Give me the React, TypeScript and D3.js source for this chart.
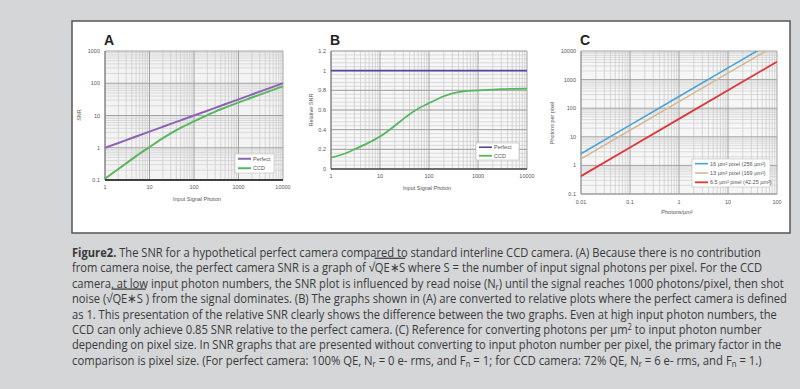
import React, { useLayoutEffect, useRef, useState } from 'react';
import * as d3 from 'd3';

// ---------- data ----------
const signalPhotons = [1, 2, 3, 5, 10, 20, 30, 50, 100, 200, 300, 500, 1000, 2000, 3000, 5000, 10000];
const perfectSNR = [1, 1.41, 1.73, 2.24, 3.16, 4.47, 5.48, 7.07, 10, 14.1, 17.3, 22.4, 31.6, 44.7, 54.8, 70.7, 100];
const ccdSNR = [0.11, 0.22, 0.33, 0.55, 1.05, 1.98, 2.8, 4.15, 6.6, 10.3, 13.2, 17.5, 25.5, 36, 44.5, 57, 81];
const perfectRel = [1, 1, 1, 1, 1, 1, 1, 1, 1, 1, 1, 1, 1, 1, 1, 1, 1];
const ccdRel = [0.115, 0.16, 0.2, 0.25, 0.33, 0.44, 0.51, 0.59, 0.67, 0.74, 0.77, 0.79, 0.80, 0.808, 0.812, 0.815, 0.817];

const photonDensity = [0.01, 0.1, 1, 10, 100];
const pixel16 = [2.56, 25.6, 256, 2560, 25600];
const pixel13 = [1.69, 16.9, 169, 1690, 16900];
const pixel65 = [0.4225, 4.225, 42.25, 422.5, 4225];

const aXTicks = [1, 10, 100, 1000, 10000];
const aXLabels = ['1', '10', '100', '1000', '10000'];
const aYTicks = [0.1, 1, 10, 100, 1000];
const aYLabels = ['0.1', '1', '10', '100', '1000'];
const bYTicks = [0, 0.2, 0.4, 0.6, 0.8, 1, 1.2];
const bYLabels = ['0', '0.2', '0.4', '0.6', '0.8', '1', '1.2'];
const cXTicks = [0.01, 0.1, 1, 10, 100];
const cXLabels = ['0.01', '0.1', '1', '10', '100'];
const cYTicks = [0.1, 1, 10, 100, 1000, 10000];
const cYLabels = ['0.1', '1', '10', '100', '1000', '10000'];

const legendAB = ['Perfect', 'CCD'];
const legendC = ['16 µm² pixel (256 µm²)', '13 µm² pixel (169 µm²)', '6.5 µm² pixel (42.25 µm²)'];

type Seg = { t: string; b?: boolean; sub?: boolean; sup?: boolean; ov?: boolean };
const captionLines: { segs: Seg[]; end: number }[] = [
  { end: 762, segs: [{ t: 'Figure2.', b: true }, { t: ' The SNR for a hypothetical perfect camera compared to standard interline CCD camera. (A) Because there is no contribution' }] },
  { end: 763, segs: [{ t: 'from camera noise, the perfect camera SNR is a graph of √' }, { t: 'QE∗S', ov: true }, { t: ' where S = the number of input signal photons per pixel. For the CCD' }] },
  { end: 785, segs: [{ t: 'camera, at low input photon numbers, the SNR plot is influenced by read noise (N' }, { t: 'r', sub: true }, { t: ') until the signal reaches 1000 photons/pixel, then shot' }] },
  { end: 788, segs: [{ t: 'noise (√' }, { t: 'QE∗S ', ov: true }, { t: ') from the signal dominates. (B) The graphs shown in (A) are converted to relative plots where the perfect camera is defined' }] },
  { end: 778, segs: [{ t: 'as 1. This presentation of the relative SNR clearly shows the difference between the two graphs. Even at high input photon numbers, the' }] },
  { end: 762, segs: [{ t: 'CCD can only achieve 0.85 SNR relative to the perfect camera. (C) Reference for converting photons per µm' }, { t: '2', sup: true }, { t: ' to input photon number' }] },
  { end: 782, segs: [{ t: 'depending on pixel size. In SNR graphs that are presented without converting to input photon number per pixel, the primary factor in the' }] },
  { end: 763, segs: [{ t: 'comparison is pixel size. (For perfect camera: 100% QE, N' }, { t: 'r', sub: true }, { t: ' = 0 e- rms, and F' }, { t: 'n', sub: true }, { t: ' = 1; for CCD camera: 72% QE, N' }, { t: 'r', sub: true }, { t: ' = 6 e- rms, and F' }, { t: 'n', sub: true }, { t: ' = 1.)' }] },
];

// ---------- helpers ----------
const FONT = 'Liberation Sans, Arial, sans-serif';
const logMinor = (lo: number, hi: number) => {
  const out: number[] = [];
  for (let e = Math.round(Math.log10(lo)); e < Math.round(Math.log10(hi)); e++) {
    for (let k = 2; k <= 9; k++) out.push(k * Math.pow(10, e));
  }
  return out;
};

type Scale = (v: number) => number;

function Grid({ x, y, xMajor, xMinor, yMajor, yMinor, x0, x1, y0, y1 }: {
  x: Scale; y: Scale; xMajor: number[]; xMinor: number[]; yMajor: number[]; yMinor: number[];
  x0: number; x1: number; y0: number; y1: number;
}) {
  return (
    <g>
      {yMinor.map((v, i) => <line key={'ym' + i} x1={x0} x2={x1} y1={y(v)} y2={y(v)} stroke="#cfcfcf" strokeWidth={0.7} />)}
      {xMinor.map((v, i) => <line key={'xm' + i} x1={x(v)} x2={x(v)} y1={y0} y2={y1} stroke="#c8c8c8" strokeWidth={0.7} />)}
      {yMajor.map((v, i) => <line key={'yM' + i} x1={x0} x2={x1} y1={y(v)} y2={y(v)} stroke="#9a9a9a" strokeWidth={0.9} />)}
      {xMajor.map((v, i) => <line key={'xM' + i} x1={x(v)} x2={x(v)} y1={y0} y2={y1} stroke="#9a9a9a" strokeWidth={0.9} />)}
    </g>
  );
}

function Legend({ x, y, w, h, items, colors, widths }: { x: number; y: number; w: number; h: number; items: string[]; colors: string[]; widths: number[] }) {
  const step = h / items.length;
  return (
    <g>
      <rect x={x} y={y} width={w} height={h} fill="#fff" stroke="#bbb" strokeWidth={0.6} />
      {items.map((t, i) => (
        <g key={i}>
          <line x1={x + 3} x2={x + 16} y1={y + step * (i + 0.5)} y2={y + step * (i + 0.5)} stroke={colors[i]} strokeWidth={widths[i]} />
          <text x={x + 18} y={y + step * (i + 0.5) + 2} fontSize={5.5} fill="#555" fontFamily={FONT}>{t}</text>
        </g>
      ))}
    </g>
  );
}

function CaptionLine({ segs, end, y }: { segs: Seg[]; end: number; y: number }) {
  const ref = useRef<SVGTextElement>(null);
  const [sx, setSx] = useState(1);
  useLayoutEffect(() => {
    if (ref.current) {
      const w = ref.current.getBBox().width;
      if (w > 0) setSx((end - 72) / w);
    }
  }, [end]);
  return (
    <g transform={`translate(72,${y}) scale(${sx},1)`}>
      <text ref={ref} x={0} y={0} fontSize={12.5} fill="#3a3a3a" fontFamily="Open Sans, Noto Sans, sans-serif">
        {segs.map((s, j) => {
          const prev = j > 0 ? segs[j - 1] : null;
          let dy = 0;
          if (s.sub) dy = 1.8;
          if (s.sup) dy = -4;
          if (prev && prev.sub) dy = -1.8;
          if (prev && prev.sup) dy = 4;
          return (
            <tspan key={j} dy={dy || undefined} fontWeight={s.b ? 'bold' : undefined}
              fontSize={s.sub || s.sup ? 8.5 : undefined}
              style={s.ov ? { textDecoration: 'overline' } : undefined}>{s.t}</tspan>
          );
        })}
      </text>
    </g>
  );
}

export default function App() {
  // Panel A
  const ax0 = 105, ax1 = 283, ay0 = 51, ay1 = 180;
  const axS = d3.scaleLog().domain([1, 10000]).range([ax0, ax1]);
  const ayS = d3.scaleLog().domain([0.1, 1000]).range([ay1, ay0]);
  const lineA = d3.line<number>().x((_, i) => axS(signalPhotons[i])).y((v) => ayS(v)).curve(d3.curveMonotoneX);

  // Panel B
  const bx0 = 331, bx1 = 527, by0 = 51, by1 = 169;
  const bxS = d3.scaleLog().domain([1, 10000]).range([bx0, bx1]);
  const byS = d3.scaleLinear().domain([0, 1.2]).range([by1, by0]);
  const lineB = d3.line<number>().x((_, i) => bxS(signalPhotons[i])).y((v) => byS(v)).curve(d3.curveMonotoneX);
  const bMinor = d3.range(0, 1.2001, 0.04);

  // Panel C
  const cx0 = 581, cx1 = 777, cy0 = 51, cy1 = 194;
  const cxS = d3.scaleLog().domain([0.01, 100]).range([cx0, cx1]);
  const cyS = d3.scaleLog().domain([0.1, 10000]).range([cy1, cy0]);
  const lineC = d3.line<number>().x((_, i) => cxS(photonDensity[i])).y((v) => cyS(v));

  const purple = '#8c62b5';
  const navy = '#4f4a9e';
  const green = '#57b65e';
  const blue = '#4aa3d6';
  const tan = '#d3b995';
  const red = '#db3838';

  const tick = { fontSize: 5.5, fill: '#555', fontFamily: FONT } as const;

  return (
    <svg width={800} height={389} style={{ position: 'absolute', left: 0, top: 0 }}>
      <rect x={0} y={0} width={800} height={389} fill="#d4d6d8" />
      <rect x={72} y={21} width={718} height={212} fill="#fff" stroke="#555" strokeWidth={1.5} />

      <defs>
        <clipPath id="clipC"><rect x={cx0} y={cy0} width={cx1 - cx0} height={cy1 - cy0} /></clipPath>
        <clipPath id="clipA"><rect x={ax0} y={ay0} width={ax1 - ax0} height={ay1 - ay0} /></clipPath>
      </defs>

      {/* Panel A */}
      <text x={104} y={45} fontSize={14} fontWeight="bold" fontFamily={FONT} fill="#222">A</text>
      <rect x={ax0} y={ay0} width={ax1 - ax0} height={ay1 - ay0} fill="#f3f3f3" />
      <Grid x={axS} y={ayS} xMajor={aXTicks} xMinor={logMinor(1, 10000)} yMajor={aYTicks} yMinor={logMinor(0.1, 1000)} x0={ax0} x1={ax1} y0={ay0} y1={ay1} />
      <line x1={ax0} x2={ax0} y1={ay0} y2={ay1} stroke="#777" strokeWidth={1} />
      <line x1={ax0} x2={ax1} y1={ay1} y2={ay1} stroke="#111" strokeWidth={1.5} />
      <g clipPath="url(#clipA)">
        <path d={lineA(perfectSNR) || ''} fill="none" stroke={purple} strokeWidth={2} />
        <path d={lineA(ccdSNR) || ''} fill="none" stroke={green} strokeWidth={2} />
      </g>
      {aYTicks.map((v, i) => <text key={i} x={100} y={ayS(v) + 2} textAnchor="end" {...tick}>{aYLabels[i]}</text>)}
      {aXTicks.map((v, i) => <text key={i} x={axS(v)} y={189} textAnchor="middle" {...tick}>{aXLabels[i]}</text>)}
      <text x={197} y={201} textAnchor="middle" {...tick}>Input Signal Photon</text>
      <text transform="translate(81,115) rotate(-90)" textAnchor="middle" {...tick}>SNR</text>
      <Legend x={235} y={154} w={39} h={19} items={legendAB} colors={[purple, green]} widths={[2, 2]} />

      {/* Panel B */}
      <text x={330} y={45} fontSize={14} fontWeight="bold" fontFamily={FONT} fill="#222">B</text>
      <rect x={bx0} y={by0} width={bx1 - bx0} height={by1 - by0} fill="#f7f7f7" />
      <Grid x={bxS} y={byS} xMajor={aXTicks} xMinor={logMinor(1, 10000)} yMajor={bYTicks} yMinor={bMinor} x0={bx0} x1={bx1} y0={by0} y1={by1} />
      <line x1={bx0} x2={bx0} y1={by0} y2={by1} stroke="#777" strokeWidth={1} />
      <line x1={bx0} x2={bx1} y1={by1} y2={by1} stroke="#111" strokeWidth={1.2} />
      <path d={lineB(perfectRel) || ''} fill="none" stroke={navy} strokeWidth={1.6} />
      <path d={lineB(ccdRel) || ''} fill="none" stroke={green} strokeWidth={1.8} />
      {bYTicks.map((v, i) => <text key={i} x={326} y={byS(v) + 2} textAnchor="end" {...tick}>{bYLabels[i]}</text>)}
      {aXTicks.map((v, i) => <text key={i} x={bxS(v)} y={178} textAnchor="middle" {...tick}>{aXLabels[i]}</text>)}
      <text x={427} y={190} textAnchor="middle" {...tick}>Input Signal Photon</text>
      <text transform="translate(313,110) rotate(-90)" textAnchor="middle" {...tick}>Relative SNR</text>
      <Legend x={476} y={143} w={43} h={17} items={legendAB} colors={[navy, green]} widths={[1.6, 1.8]} />

      {/* Panel C */}
      <text x={580} y={45} fontSize={14} fontWeight="bold" fontFamily={FONT} fill="#222">C</text>
      <rect x={cx0} y={cy0} width={cx1 - cx0} height={cy1 - cy0} fill="#f6f6f6" />
      <Grid x={cxS} y={cyS} xMajor={cXTicks} xMinor={logMinor(0.01, 100)} yMajor={cYTicks} yMinor={logMinor(0.1, 10000)} x0={cx0} x1={cx1} y0={cy0} y1={cy1} />
      <line x1={cx0} x2={cx0} y1={cy0} y2={cy1} stroke="#999" strokeWidth={1} />
      <line x1={cx0} x2={cx1} y1={cy1} y2={cy1} stroke="#999" strokeWidth={1} />
      <g clipPath="url(#clipC)">
        <path d={lineC(pixel16) || ''} fill="none" stroke={blue} strokeWidth={1.6} />
        <path d={lineC(pixel13) || ''} fill="none" stroke={tan} strokeWidth={1.6} />
        <path d={lineC(pixel65) || ''} fill="none" stroke={red} strokeWidth={1.8} />
      </g>
      {cYTicks.map((v, i) => <text key={i} x={576} y={cyS(v) + 2} textAnchor="end" {...tick}>{cYLabels[i]}</text>)}
      {cXTicks.map((v, i) => <text key={i} x={cxS(v)} y={204} textAnchor="middle" {...tick}>{cXLabels[i]}</text>)}
      <text x={677} y={214} textAnchor="middle" {...tick}>Photons/µm²</text>
      <text transform="translate(554,123) rotate(-90)" textAnchor="middle" {...tick}>Photons per pixel</text>
      <Legend x={692} y={159} w={78} h={28} items={legendC} colors={[blue, tan, red]} widths={[1.6, 1.6, 1.8]} />

      {/* Caption */}
      {captionLines.map((ln, i) => (
        <CaptionLine key={i} segs={ln.segs} end={ln.end} y={257 + i * 15.4} />
      ))}
    </svg>
  );
}
